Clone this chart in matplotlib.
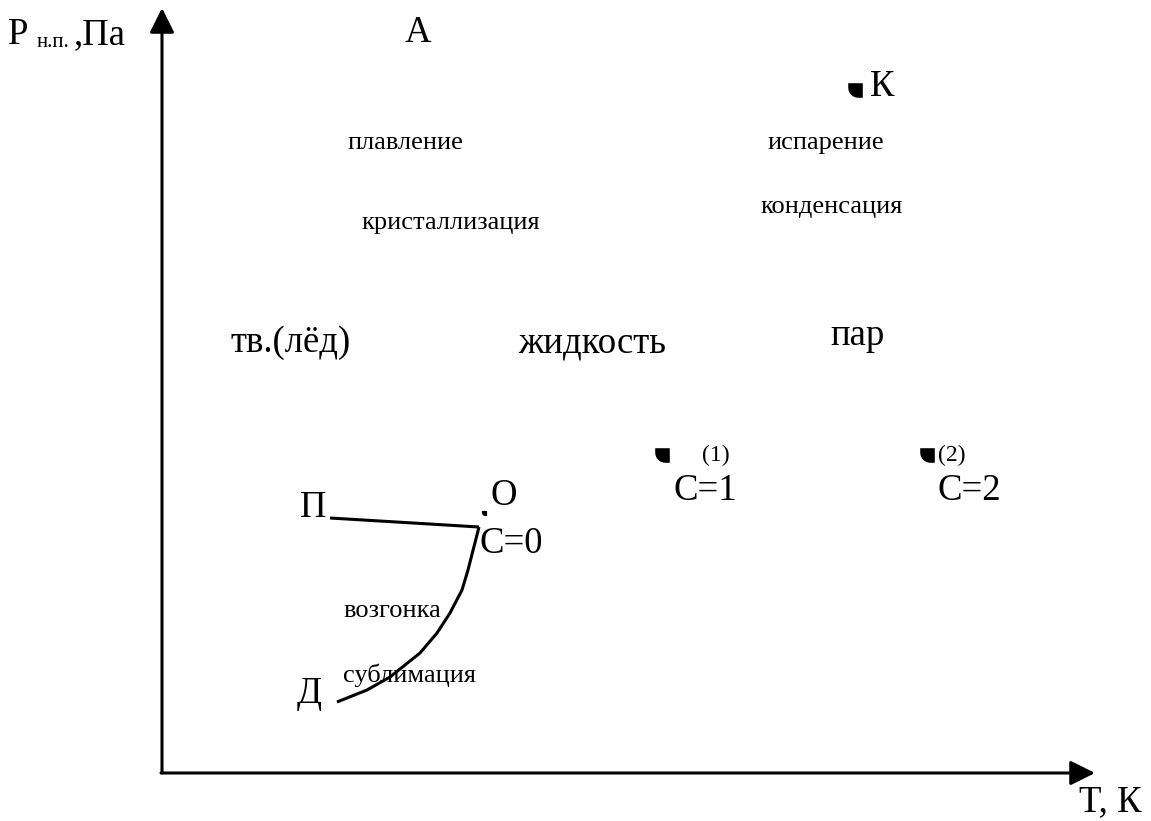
import numpy as np
import matplotlib.pyplot as plt
from matplotlib.path import Path

plt.rcParams['font.family'] = ['Liberation Serif', 'DejaVu Serif']

# axis origin in picture pixels, used to place texts
X0, Y0 = 162, 773

# sublimation curve O-Д (T, P)
subl_T = [317, 306, 300, 288, 275, 258, 228, 205, 175]
subl_P = [246, 203, 183, 160, 140, 120, 96, 83, 71]

# line П-O
pi_T = [168, 317]
pi_P = [255, 246]

# marked points: K, C=1, C=2 and the triple point O
pts_T = [693, 500, 765]
pts_P = [683, 318, 318]
triple_T = [322]
triple_P = [260]

# axis lengths
T_MAX = 933
P_MAX = 765


def px(x, y):
    return x - X0, Y0 - y


# blob marker: square with a rounded bottom-left corner
r = 0.7
a = np.linspace(np.pi, 1.5 * np.pi, 12)
arc = [(-0.5 + r + r * np.cos(t), -0.5 + r + r * np.sin(t)) for t in a]
verts = [(0.5, 0.5), (-0.5, 0.5)] + arc + [(0.5, -0.5), (0.5, 0.5)]
qmark = Path(verts)

fig = plt.figure(figsize=(11.51, 8.21), dpi=100)
ax = fig.add_axes([0, 0, 1, 1])
ax.set_xlim(-X0, 1151 - X0)
ax.set_ylim(Y0 - 821, Y0)
ax.axis('off')

# axes with arrows
ax.annotate('', xy=(0, P_MAX), xytext=(0, 0),
            arrowprops=dict(arrowstyle='-|>,head_length=0.5,head_width=0.25',
                            color='black', lw=2.2,
                            mutation_scale=30, shrinkA=0, shrinkB=0))
ax.annotate('', xy=(T_MAX, 0), xytext=(-1, 0),
            arrowprops=dict(arrowstyle='-|>,head_length=0.5,head_width=0.25',
                            color='black', lw=2.2,
                            mutation_scale=30, shrinkA=0, shrinkB=0))

ax.plot(subl_T, subl_P, color='black', lw=2.2, solid_capstyle='butt')
ax.plot(pi_T, pi_P, color='black', lw=2.2, solid_capstyle='butt')

ax.scatter(pts_T, pts_P, marker=qmark, s=110, color='black', linewidths=0)
ax.scatter(triple_T, triple_P, marker=qmark, s=14, color='black', linewidths=0)

BIG = 26.5
SMALL = 19
SUB = 15
NUM = 17


def t(x, y, s, size, ha='center'):
    ax.text(*px(x, y), s, fontsize=size, ha=ha, va='center')


# axis labels
t(8, 35, 'P', BIG, ha='left')
t(37, 42, 'н.п.', SUB, ha='left')
t(74, 35, ',Па', BIG, ha='left')
t(1110, 802, 'T, К', BIG)

t(418, 33, 'A', BIG)
t(882, 87, 'К', BIG)

t(405, 143, 'плавление', SMALL)
t(451, 223, 'кристаллизация', SMALL)
t(826, 143, 'испарение', SMALL)
t(832, 207, 'конденсация', SMALL)

t(291, 343, 'тв.(лёд)', BIG)
t(592, 343, 'жидкость', BIG)
t(858, 336, 'пар', BIG)

t(716, 455, '(1)', NUM)
t(705, 491, 'C=1', BIG)
t(952, 455, '(2)', NUM)
t(969, 491, 'C=2', BIG)

t(504, 496, 'O', BIG)
t(313, 508, 'П', BIG)
t(511, 544, 'C=0', BIG)
t(392, 611, 'возгонка', SMALL)
t(410, 675, 'сублимация', SMALL)
t(309, 694, 'Д', BIG)

fig.savefig('out.png', dpi=100)
